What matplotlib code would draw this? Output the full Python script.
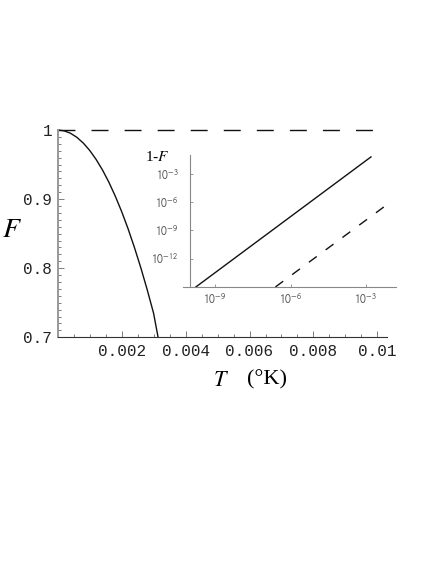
import math
import matplotlib
matplotlib.use("Agg")
import matplotlib.pyplot as plt
from matplotlib.ticker import FixedLocator, MultipleLocator, FuncFormatter, NullLocator

plt.rcParams['mathtext.fontset'] = 'stix'

# ---- data ----
T_main = [0.0, 0.0002, 0.0004, 0.0006, 0.0008, 0.0010, 0.0012, 0.0014, 0.0016,
          0.0018, 0.0020, 0.0022, 0.0024, 0.0026, 0.0028, 0.0030, 0.00314]
F_main = [1.0, 0.9988, 0.9953, 0.9894, 0.9811, 0.9705, 0.9575, 0.9422, 0.9245,
          0.9044, 0.8820, 0.8572, 0.8300, 0.8006, 0.7688, 0.7346, 0.700]
T_flat = [0.0, 0.00995]
F_flat = [1.0, 1.0]

x_ticks = [0.002, 0.004, 0.006, 0.008, 0.01]
x_labels = ["0.002", "0.004", "0.006", "0.008", "0.01"]
y_ticks = [0.7, 0.8, 0.9, 1.0]
y_labels = ["0.7", "0.8", "0.9", "1"]

inset_solid_T = [1.7e-10, 1.6e-3]
inset_solid_1mF = [1e-15, 6.3e-2]
inset_dashed_T = [2.5e-7, 6.5e-3]
inset_dashed_1mF = [1e-15, 4.8e-7]
inset_x_ticks = [1e-9, 1e-6, 1e-3]
inset_y_ticks = [1e-12, 1e-9, 1e-6, 1e-3]

W, H = 436, 564
fig = plt.figure(figsize=(W / 100, H / 100), dpi=100)

def box(x0, y0, x1, y1):
    return [x0 / W, 1 - y1 / H, (x1 - x0) / W, (y1 - y0) / H]

ax = fig.add_axes(box(57.7, 130, 387, 337.3))
ax.plot(T_main, F_main, color='#111111', lw=1.0, clip_on=False)
ax.plot(T_flat, F_flat, color='#111111', lw=1.0, dashes=(12.2, 11.6), clip_on=False)
ax.set_xlim(0, 0.0103)
ax.set_ylim(0.7, 1.0)
for s in ['top', 'right']:
    ax.spines[s].set_visible(False)
ax.spines['left'].set_color('#999999')
ax.spines['left'].set_linewidth(1.4)
ax.spines['bottom'].set_color('#333333')
ax.spines['bottom'].set_linewidth(0.8)
ax.xaxis.set_major_locator(FixedLocator(x_ticks))
ax.set_xticklabels(x_labels)
ax.xaxis.set_minor_locator(MultipleLocator(0.0005))
ax.yaxis.set_major_locator(FixedLocator(y_ticks))
ax.set_yticklabels(y_labels)
ax.yaxis.set_minor_locator(MultipleLocator(0.01))
ax.tick_params(which='both', direction='in', color='#666666', width=0.6)
ax.tick_params(which='major', length=4)
ax.tick_params(which='minor', length=2)
ax.tick_params(axis='x', which='major', pad=5)
ax.tick_params(axis='y', which='major', pad=4)
for lab in ax.get_xticklabels() + ax.get_yticklabels():
    lab.set_family('Liberation Mono')
    lab.set_fontsize(11.5)
    lab.set_color('#222222')

fig.text(12 / W, 1 - 229 / H, r'$F$', fontsize=20, ha='center', va='center')
fig.text(221 / W, 1 - 380 / H, r'$T$', fontsize=16, ha='center', va='center')
fig.text(267 / W, 1 - 380 / H, '(°K)', fontsize=16, ha='center', va='center',
         family='Liberation Serif')

# ---- inset ----
axi = fig.add_axes(box(183, 155, 396, 287))
axi.set_xscale('log')
axi.set_yscale('log')
axi.plot(inset_solid_T, inset_solid_1mF, color='#111111', lw=1.0)
axi.plot(inset_dashed_T, inset_dashed_1mF, color='#111111', lw=1.0, dashes=(7, 8))
axi.set_xlim(10 ** -10.28, 10 ** -1.8)
axi.set_ylim(1e-15, 10 ** -1.0)
for s in ['top', 'right']:
    axi.spines[s].set_visible(False)
axi.spines['left'].set_position(('data', 1e-10))
axi.spines['left'].set_color('#888888')
axi.spines['bottom'].set_color('#888888')
axi.spines['left'].set_linewidth(0.8)
axi.spines['bottom'].set_linewidth(0.8)
axi.patch.set_alpha(0)
axi.xaxis.set_major_locator(FixedLocator(inset_x_ticks))
axi.yaxis.set_major_locator(FixedLocator(inset_y_ticks))
axi.xaxis.set_minor_locator(NullLocator())
axi.yaxis.set_minor_locator(NullLocator())
fmt = FuncFormatter(lambda v, p: r'$\mathsf{10}^{\mathsf{%d}}$' % round(math.log10(v)))
axi.xaxis.set_major_formatter(fmt)
axi.yaxis.set_major_formatter(fmt)
axi.tick_params(which='both', direction='in', length=2.5, width=0.6, color='#888888',
                labelsize=8.5, labelcolor='#555555')
axi.tick_params(axis='y', pad=8)
axi.tick_params(axis='x', pad=4)
fig.text(157 / W, 1 - 157 / H, r'1-$F$', fontsize=11, ha='center', va='center',
         family='Liberation Serif')

fig.savefig('out.png', dpi=100)
